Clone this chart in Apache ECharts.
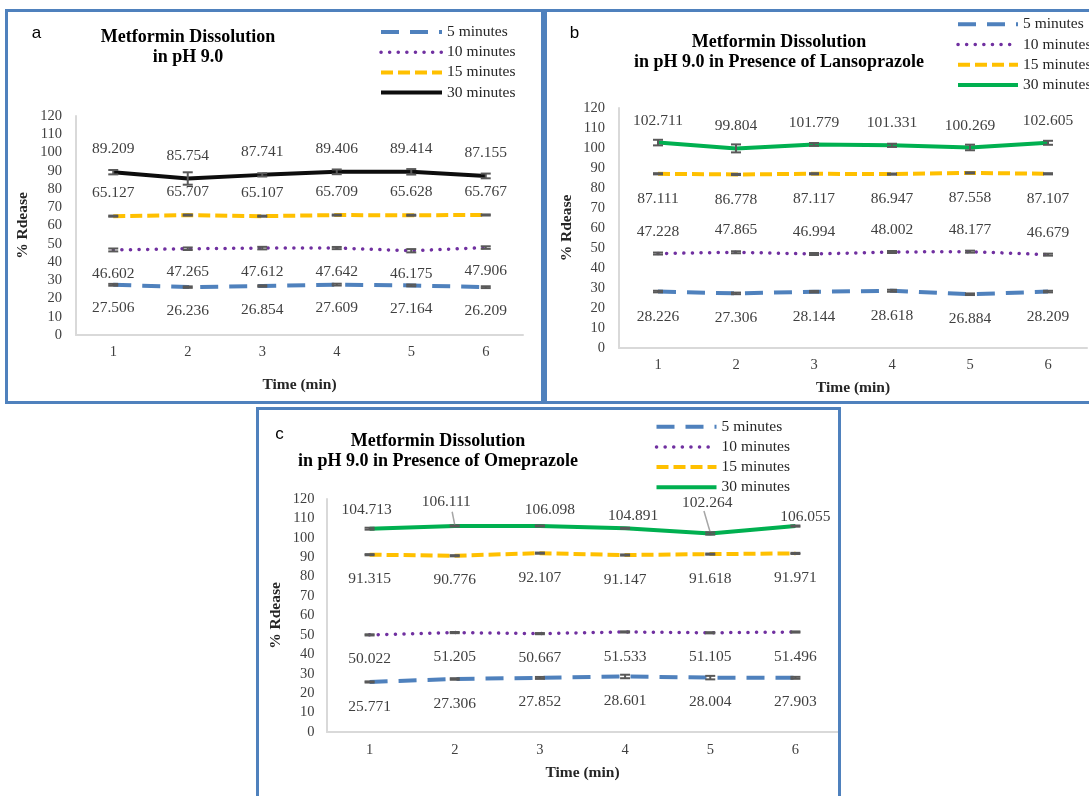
<!DOCTYPE html>
<html>
<head>
<meta charset="utf-8">
<script src="https://cdn.jsdelivr.net/npm/echarts@6/dist/echarts.min.js"></script>
<style>
  html, body { margin: 0; padding: 0; background: #ffffff; overflow: hidden; width: 1089px; height: 796px; }
  .panel { position: absolute; left: 0; top: 0; width: 1089px; height: 796px; }
</style>
</head>
<body>
<div id="panelA" class="panel"></div>
<div id="panelB" class="panel"></div>
<div id="panelC" class="panel"></div>
<script>
// ---- shared categories and tick labels ----
const timePoints = ['1', '2', '3', '4', '5', '6'];
const seriesNames = ['5 minutes', '10 minutes', '15 minutes', '30 minutes'];
const yMin = 0, yMax = 120, yStep = 10;

// ---- (a) pH 9.0 ----
const plain5  = [27.506, 26.236, 26.854, 27.609, 27.164, 26.209];
const plain10 = [46.602, 47.265, 47.612, 47.642, 46.175, 47.906];
const plain15 = [65.127, 65.707, 65.107, 65.709, 65.628, 65.767];
const plain30 = [89.209, 85.754, 87.741, 89.406, 89.414, 87.155];
const plain5Err  = [0.5, 0.4, 0.4, 0.5, 0.5, 0.5];
const plain10Err = [0.8, 0.7, 0.7, 0.6, 0.9, 0.7];
const plain15Err = [0.3, 0.3, 0.3, 0.3, 0.3, 0.3];
const plain30Err = [1.2, 3.4, 0.9, 1.3, 1.5, 1.3];

// ---- (b) pH 9.0 with lansoprazole ----
const lanso5  = [28.226, 27.306, 28.144, 28.618, 26.884, 28.209];
const lanso10 = [47.228, 47.865, 46.994, 48.002, 48.177, 46.679];
const lanso15 = [87.111, 86.778, 87.117, 86.947, 87.558, 87.107];
const lanso30 = [102.711, 99.804, 101.779, 101.331, 100.269, 102.605];
const lanso5Err  = [0.4, 0.4, 0.4, 0.5, 0.4, 0.4];
const lanso10Err = [0.5, 0.5, 0.5, 0.5, 0.5, 0.5];
const lanso15Err = [0.3, 0.3, 0.3, 0.3, 0.3, 0.3];
const lanso30Err = [1.4, 2.0, 0.7, 0.8, 1.4, 1.0];

// ---- (c) pH 9.0 with omeprazole ----
const omep5  = [25.771, 27.306, 27.852, 28.601, 28.004, 27.903];
const omep10 = [50.022, 51.205, 50.667, 51.533, 51.105, 51.496];
const omep15 = [91.315, 90.776, 92.107, 91.147, 91.618, 91.971];
const omep30 = [104.713, 106.111, 106.098, 104.891, 102.264, 106.055];
const omep5Err  = [0.3, 0.4, 0.5, 0.9, 0.9, 0.5];
const omep10Err = [0.3, 0.3, 0.3, 0.3, 0.3, 0.3];
const omep15Err = [0.3, 0.3, 0.3, 0.3, 0.3, 0.3];
const omep30Err = [0.5, 0.3, 0.3, 0.3, 0.6, 0.3];

// ---- styling ----
const SERIF = 'Liberation Serif';
const SANS = 'Liberation Sans';
const FRAME = '#4f81bd';
const lineLooks = {
  '5 minutes':  { color: '#4f81bd', width: 4,   type: [18, 11], cap: 'butt' },
  '10 minutes': { color: '#7030a0', width: 3.5, type: [0.1, 8.5], cap: 'round' },
  '15 minutes': { color: '#ffc000', width: 4,   type: [12, 5], cap: 'butt' }
};

function lineSeries(name, values, look, pos, dist, extra) {
  return Object.assign({
    type: 'line', name: name, data: values,
    symbol: 'circle', symbolSize: 0, showSymbol: true,
    lineStyle: look, itemStyle: { color: look.color },
    emphasis: { disabled: true }, z: 2,
    label: {
      show: true, position: pos, distance: dist,
      color: '#404040', fontFamily: SERIF, fontSize: 15.5,
      formatter: p => Number(p.value).toFixed(3)
    }
  }, extra || {});
}

function errorSeries(values, errs) {
  return {
    type: 'custom', silent: true, z: 4,
    data: values.map((v, i) => [i, v - errs[i], v + errs[i]]),
    encode: { x: 0, y: [1, 2] },
    renderItem: function (params, api) {
      const lo = api.coord([api.value(0), api.value(1)]);
      const hi = api.coord([api.value(0), api.value(2)]);
      const hw = 5;
      const st = { stroke: '#595959', lineWidth: 2 };
      return {
        type: 'group', children: [
          { type: 'line', shape: { x1: lo[0], y1: lo[1], x2: hi[0], y2: hi[1] }, style: st },
          { type: 'line', shape: { x1: lo[0] - hw, y1: lo[1], x2: lo[0] + hw, y2: lo[1] }, style: st },
          { type: 'line', shape: { x1: hi[0] - hw, y1: hi[1], x2: hi[0] + hw, y2: hi[1] }, style: st }
        ]
      };
    }
  };
}

// short grey leader strokes running from a lifted label down to its point
function leaderSeries(values, indices, tips) {
  return {
    type: 'custom', silent: true, z: 3,
    data: indices.map(i => [i, values[i]]),
    renderItem: function (params, api) {
      const pt = api.coord([api.value(0), api.value(1)]);
      const tip = tips[params.dataIndex];
      return {
        type: 'line',
        shape: { x1: pt[0] + tip[0], y1: pt[1] + tip[1], x2: pt[0], y2: pt[1] - 1 },
        style: { stroke: '#a6a6a6', lineWidth: 1.5 }
      };
    }
  };
}

function buildPanel(elId, cfg) {
  const chart = echarts.init(document.getElementById(elId), null, { renderer: 'canvas' });
  const option = {
    animation: false,
    graphic: [
      { type: 'rect', shape: cfg.frame, style: { fill: 'none', stroke: FRAME, lineWidth: 3 }, z: 10 },
      { type: 'text', x: cfg.letter[0], y: cfg.letter[1],
        style: { text: cfg.letterText, font: '17px ' + SANS, fill: '#000', align: 'center', verticalAlign: 'middle' } },
      { type: 'text', x: cfg.title[0], y: cfg.title[1],
        style: { text: cfg.titleText, font: 'bold 18px ' + SERIF, fill: '#000', align: 'center', verticalAlign: 'middle', lineHeight: cfg.titleLineHeight } }
    ],
    legend: {
      data: seriesNames, orient: 'vertical', left: cfg.legend[0], top: cfg.legend[1],
      padding: 0,
      itemWidth: cfg.legendIconWidth, itemHeight: 14, itemGap: 4.2,
      textStyle: { fontFamily: SERIF, fontSize: 15.5, color: '#262626' },
      lineStyle: { width: 'inherit' }, itemStyle: { opacity: 0 },
      selectedMode: false
    },
    grid: { left: cfg.grid[0], top: cfg.grid[1], width: cfg.grid[2], height: cfg.grid[3], containLabel: false },
    xAxis: {
      type: 'category', data: timePoints, boundaryGap: true,
      axisTick: { show: false },
      axisLine: { show: true, lineStyle: { color: '#d9d9d9', width: 2 } },
      axisLabel: { color: '#404040', fontFamily: SERIF, fontSize: 14.5, margin: cfg.xLabelMargin },
      name: 'Time (min)', nameLocation: 'middle', nameGap: cfg.xNameGap,
      nameTextStyle: { fontFamily: SERIF, fontWeight: 'bold', fontSize: 15.5, color: '#262626' }
    },
    yAxis: {
      type: 'value', min: yMin, max: yMax, interval: yStep,
      splitLine: { show: false }, axisTick: { show: false },
      axisLine: { show: true, lineStyle: { color: '#d9d9d9', width: 2 } },
      axisLabel: { color: '#404040', fontFamily: SERIF, fontSize: 14.5, margin: cfg.yLabelMargin },
      name: '% Rdease', nameLocation: 'middle', nameGap: cfg.yNameGap,
      nameTextStyle: { fontFamily: SERIF, fontWeight: 'bold', fontSize: 15.5, color: '#262626' }
    },
    series: cfg.series
  };
  chart.setOption(option);
  return chart;
}

// (a)
buildPanel('panelA', {
  frame: { x: 6.5, y: 10.5, width: 536, height: 392 },
  letterText: 'a', letter: [36.5, 33],
  titleText: 'Metformin Dissolution\nin pH 9.0', title: [188, 47], titleLineHeight: 20,
  legend: [379, 24], legendIconWidth: 61,
  grid: [76, 116, 447, 219],
  xNameGap: 42, yNameGap: 45, xLabelMargin: 10, yLabelMargin: 14,
  series: [
    lineSeries('5 minutes', plain5, lineLooks['5 minutes'], 'bottom', 15.5),
    lineSeries('10 minutes', plain10, lineLooks['10 minutes'], 'bottom', 15.5),
    lineSeries('15 minutes', plain15, lineLooks['15 minutes'], 'top', 15),
    lineSeries('30 minutes', plain30, { color: '#0d0d0d', width: 4, type: 'solid', cap: 'butt' }, 'top', 15),
    errorSeries(plain5, plain5Err), errorSeries(plain10, plain10Err),
    errorSeries(plain15, plain15Err), errorSeries(plain30, plain30Err)
  ]
});

// (b)
buildPanel('panelB', {
  frame: { x: 545.5, y: 10.5, width: 600, height: 392 },
  letterText: 'b', letter: [574.5, 33],
  titleText: 'Metformin Dissolution\nin pH 9.0 in Presence of Lansoprazole', title: [779, 52.5], titleLineHeight: 19.5,
  legend: [956, 16.3], legendIconWidth: 60,
  grid: [619, 108, 468, 240],
  xNameGap: 32, yNameGap: 44, xLabelMargin: 10, yLabelMargin: 14,
  series: [
    lineSeries('5 minutes', lanso5, lineLooks['5 minutes'], 'bottom', 17),
    lineSeries('10 minutes', lanso10, lineLooks['10 minutes'], 'top', 14),
    lineSeries('15 minutes', lanso15, lineLooks['15 minutes'], 'bottom', 17),
    lineSeries('30 minutes', lanso30, { color: '#00b050', width: 4, type: 'solid', cap: 'butt' }, 'top', 14),
    errorSeries(lanso5, lanso5Err), errorSeries(lanso10, lanso10Err),
    errorSeries(lanso15, lanso15Err), errorSeries(lanso30, lanso30Err)
  ]
});

// (c) — the 30-minute labels are nudged individually; two of them get leader strokes
const omepLabelDx = [-3, -8.5, 10, 8, -3, 10];
const omepLabelDy = [-2.7, -8.5, 0, 3.5, -15, 7];
const omepLeaders = [1, 4];
const omepLeaderTips = [[-2.6, -14.2], [-6.3, -22.4]];
buildPanel('panelC', {
  frame: { x: 257.5, y: 408.5, width: 582, height: 500 },
  letterText: 'c', letter: [279.5, 434],
  titleText: 'Metformin Dissolution\nin pH 9.0 in Presence of Omeprazole', title: [438, 451.5], titleLineHeight: 19.7,
  legend: [654.5, 418.7], legendIconWidth: 60,
  grid: [327, 499, 511, 233],
  xNameGap: 33, yNameGap: 43, xLabelMargin: 10.5, yLabelMargin: 12.5,
  series: [
    lineSeries('5 minutes', omep5, lineLooks['5 minutes'], 'bottom', 16.5),
    lineSeries('10 minutes', omep10, lineLooks['10 minutes'], 'bottom', 16.5),
    lineSeries('15 minutes', omep15, lineLooks['15 minutes'], 'bottom', 16.5),
    lineSeries('30 minutes', omep30,
      { color: '#00b050', width: 4, type: 'solid', cap: 'butt' }, 'top', 8, {
        labelLayout: p => ({ dx: omepLabelDx[p.dataIndex], dy: omepLabelDy[p.dataIndex] })
      }),
    leaderSeries(omep30, omepLeaders, omepLeaderTips),
    errorSeries(omep5, omep5Err), errorSeries(omep10, omep10Err),
    errorSeries(omep15, omep15Err), errorSeries(omep30, omep30Err)
  ]
});
</script>
</body>
</html>
